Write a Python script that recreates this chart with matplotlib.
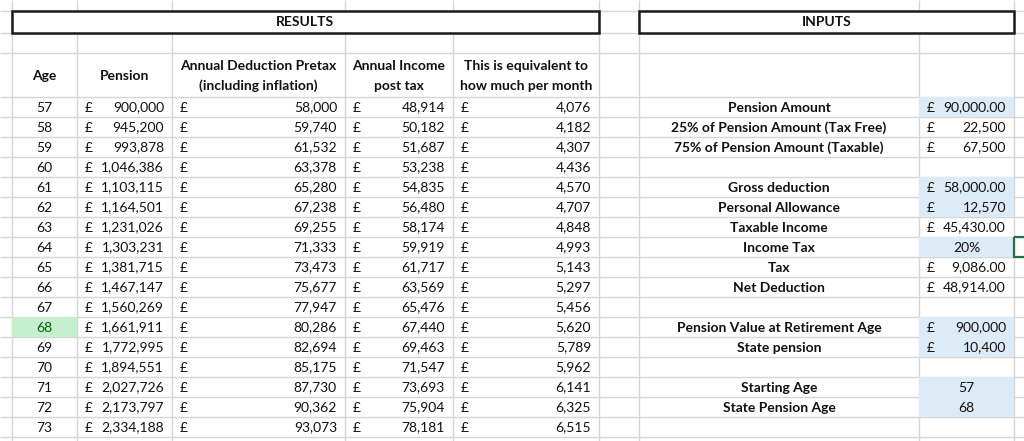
"""
Pension drawdown sheet - results table and inputs panel
"""

# LIBRARY

import matplotlib.pyplot as plt
import matplotlib.patches as patches

# DATA

ages = [57, 58, 59, 60, 61, 62, 63, 64, 65, 66, 67, 68, 69, 70, 71, 72, 73]
pension = [900000, 945200, 993878, 1046386, 1103115, 1164501, 1231026, 1303231, 1381715,
           1467147, 1560269, 1661911, 1772995, 1894551, 2027726, 2173797, 2334188]
deduction_pretax = [58000, 59740, 61532, 63378, 65280, 67238, 69255, 71333, 73473,
                    75677, 77947, 80286, 82694, 85175, 87730, 90362, 93073]
income_post_tax = [48914, 50182, 51687, 53238, 54835, 56480, 58174, 59919, 61717,
                   63569, 65476, 67440, 69463, 71547, 73693, 75904, 78181]
per_month = [4076, 4182, 4307, 4436, 4570, 4707, 4848, 4993, 5143,
             5297, 5456, 5620, 5789, 5962, 6141, 6325, 6515]
state_pension_age = 68

results_title = 'RESULTS'
inputs_title = 'INPUTS'
result_headers = ['Age', 'Pension', 'Annual Deduction Pretax\n(including inflation)',
                  'Annual Income\npost tax', 'This is equivalent to\nhow much per month']

input_labels = ['Pension Amount', '25% of Pension Amount (Tax Free)', '75% of Pension Amount (Taxable)', '',
                'Gross deduction', 'Personal Allowance', 'Taxable Income', 'Income Tax', 'Tax', 'Net Deduction', '',
                'Pension Value at Retirement Age', 'State pension', '',
                'Starting Age', 'State Pension Age', '']
input_values = ['90,000.00', '22,500', '67,500', '',
                '58,000.00', '12,570', '45,430.00', '20%', '9,086.00', '48,914.00', '',
                '900,000', '10,400', '',
                '57', '68', '']
input_is_money = [True, True, True, False,
                  True, True, True, False, True, True, False,
                  True, True, False,
                  False, False, False]

# LAYOUT (pixels)

fig_w, fig_h = 1024, 441
col_edges = [0, 11.5, 77, 172, 345, 453, 599, 639, 919, 1014, 1024]
top_rows = [11, 33, 53]
first_row = 97
row_h = 20
pad = 8
results_box = (11.5, 599)
inputs_box = (639, 1014)

# STYLE

font = 'Lato'
fs = 10
text_color = '#111111'
grid_color = '#d6d6d6'
blue_fill = '#ddebf7'
good_fill = '#c6efce'
good_text = '#006100'
select_color = '#217346'
blue_rows = [0, 4, 5, 7, 11, 12, 14, 15]

plt.rcParams['font.family'] = [font, 'DejaVu Sans']
plt.rcParams['text.color'] = text_color

fig = plt.figure(figsize=(fig_w / 100, fig_h / 100), dpi=100)
ax = fig.add_axes([0, 0, 1, 1])
ax.set_xlim(0, fig_w)
ax.set_ylim(fig_h, 0)
ax.axis('off')

# grid lines
n_rows = len(ages)
for x in col_edges[1:-1]:
    ax.vlines(x, 0, fig_h, color=grid_color, linewidth=1, zorder=1)
row_lines = top_rows + [first_row + row_h * k for k in range(n_rows + 1)]
for y in row_lines:
    ax.hlines(y, 0, fig_w, color=grid_color, linewidth=1, zorder=1)

# title boxes
for (x0, x1), title in [(results_box, results_title), (inputs_box, inputs_title)]:
    ax.add_patch(patches.Rectangle((x0, top_rows[0]), x1 - x0, top_rows[1] - top_rows[0],
                                   facecolor='white', edgecolor='#1a1a1a', linewidth=1.8, zorder=3))
    ax.text((x0 + x1) / 2, (top_rows[0] + top_rows[1]) / 2 + 0.5, title, ha='center', va='center',
            fontsize=fs, fontweight='bold', zorder=4)

# column headers
head_mid = (top_rows[2] + first_row) / 2
for i, header in enumerate(result_headers):
    cx = (col_edges[i + 1] + col_edges[i + 2]) / 2
    lines = header.split('\n')
    for j, line in enumerate(lines):
        y = head_mid + (j - (len(lines) - 1) / 2) * row_h
        ax.text(cx, y + 0.5, line, ha='center', va='center', fontsize=fs, fontweight='bold')


def money(col, y, value_text, color=text_color):
    left, right = col_edges[col], col_edges[col + 1]
    ax.text(left + pad, y, '£', ha='left', va='center', fontsize=fs, color=color, zorder=4)
    ax.text(right - pad, y, value_text, ha='right', va='center', fontsize=fs, color=color, zorder=4)


# results rows
for r in range(n_rows):
    y0 = first_row + r * row_h
    yc = y0 + row_h / 2 + 0.5
    age_color = text_color
    if ages[r] == state_pension_age:
        ax.add_patch(patches.Rectangle((col_edges[1], y0), col_edges[2] - col_edges[1], row_h,
                                       facecolor=good_fill, edgecolor='none', zorder=2))
        age_color = good_text
    ax.text((col_edges[1] + col_edges[2]) / 2, yc, str(ages[r]), ha='center', va='center',
            fontsize=fs, color=age_color, zorder=4)
    money(2, yc, f'{pension[r]:,}')
    money(3, yc, f'{deduction_pretax[r]:,}')
    money(4, yc, f'{income_post_tax[r]:,}')
    money(5, yc, f'{per_month[r]:,}')

# inputs rows
for r, label in enumerate(input_labels):
    y0 = first_row + r * row_h
    yc = y0 + row_h / 2 + 0.5
    if r in blue_rows:
        ax.add_patch(patches.Rectangle((col_edges[8], y0), col_edges[9] - col_edges[8], row_h,
                                       facecolor=blue_fill, edgecolor='none', zorder=2))
    if label:
        ax.text((col_edges[7] + col_edges[8]) / 2, yc, label, ha='center', va='center',
                fontsize=fs, fontweight='bold', zorder=4)
    value = input_values[r]
    if value and input_is_money[r]:
        money(8, yc, value)
    elif value:
        ax.text((col_edges[8] + col_edges[9]) / 2, yc, value, ha='center', va='center',
                fontsize=fs, zorder=4)

# selected cell outline next to Income Tax
sel = input_labels.index('Income Tax')
ax.add_patch(patches.Rectangle((col_edges[9], first_row + sel * row_h), 20, row_h,
                               facecolor='none', edgecolor=select_color, linewidth=1.6, zorder=5))

fig.savefig('out.png', dpi=100)
